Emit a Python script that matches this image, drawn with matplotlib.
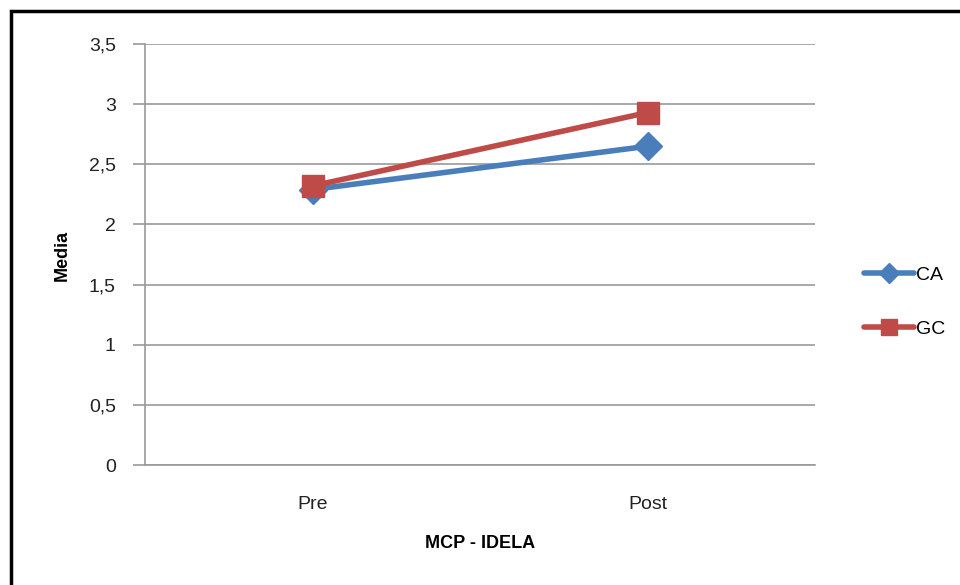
import matplotlib.pyplot as plt
from matplotlib.patches import Rectangle

categorias = ["Pre", "Post"]
ca = [2.29, 2.65]
gc = [2.32, 2.93]
y_ticks = [0, 0.5, 1, 1.5, 2, 2.5, 3, 3.5]
y_labels = ["0", "0,5", "1", "1,5", "2", "2,5", "3", "3,5"]

plt.rcParams['font.family'] = ['Liberation Sans', 'DejaVu Sans']

fig = plt.figure(figsize=(9.6, 5.85), dpi=100)
ax = fig.add_axes([145 / 960, 1 - 465 / 585, 670 / 960, 421 / 585])

x = list(range(len(categorias)))
ax.plot(x, ca, marker='D', markersize=14, color="#4a7ebb", linewidth=4, label="CA",
        solid_capstyle='round')
ax.plot(x, gc, marker='s', markersize=16, color="#be4b48", linewidth=4, label="GC",
        solid_capstyle='round')

ax.set_xlim(-0.5, 1.5)
ax.set_ylim(0, 3.5)
ax.set_yticks(y_ticks)
ax.set_yticklabels(y_labels, fontsize=14, color="#222222")
ax.set_xticks(x)
ax.set_xticklabels(categorias, fontsize=14, color="#222222")
ax.tick_params(axis='y', length=9, color="#999999", width=1.2, pad=12)
ax.tick_params(axis='x', length=0, pad=22)
ax.grid(axis='y', color="#999999", linewidth=1.2)
ax.set_axisbelow(True)
for s in ["top", "right"]:
    ax.spines[s].set_visible(False)
ax.spines["left"].set_color("#999999")
ax.spines["bottom"].set_color("#999999")
ax.spines["left"].set_linewidth(1.2)
ax.spines["bottom"].set_linewidth(1.2)

fig.text(480 / 960, 1 - 543 / 585, "MCP - IDELA", fontsize=13, fontweight='bold',
         ha='center', va='center')
fig.text(62 / 960, 1 - 255 / 585, "Media", fontsize=13, fontweight='bold',
         ha='center', va='center', rotation=90)

fig.legend(loc='center left', bbox_to_anchor=(846 / 960, 1 - 302 / 585), frameon=False,
           fontsize=14, handlelength=2.6, labelspacing=1.9, handletextpad=0.1,
           markerscale=0.75)

fig.patches.append(Rectangle((11 / 960, -0.1), 1.2, 1 - 11 / 585 + 0.1,
                             transform=fig.transFigure, fill=False,
                             edgecolor="black", linewidth=2.5))

fig.savefig("out.png", dpi=100)
